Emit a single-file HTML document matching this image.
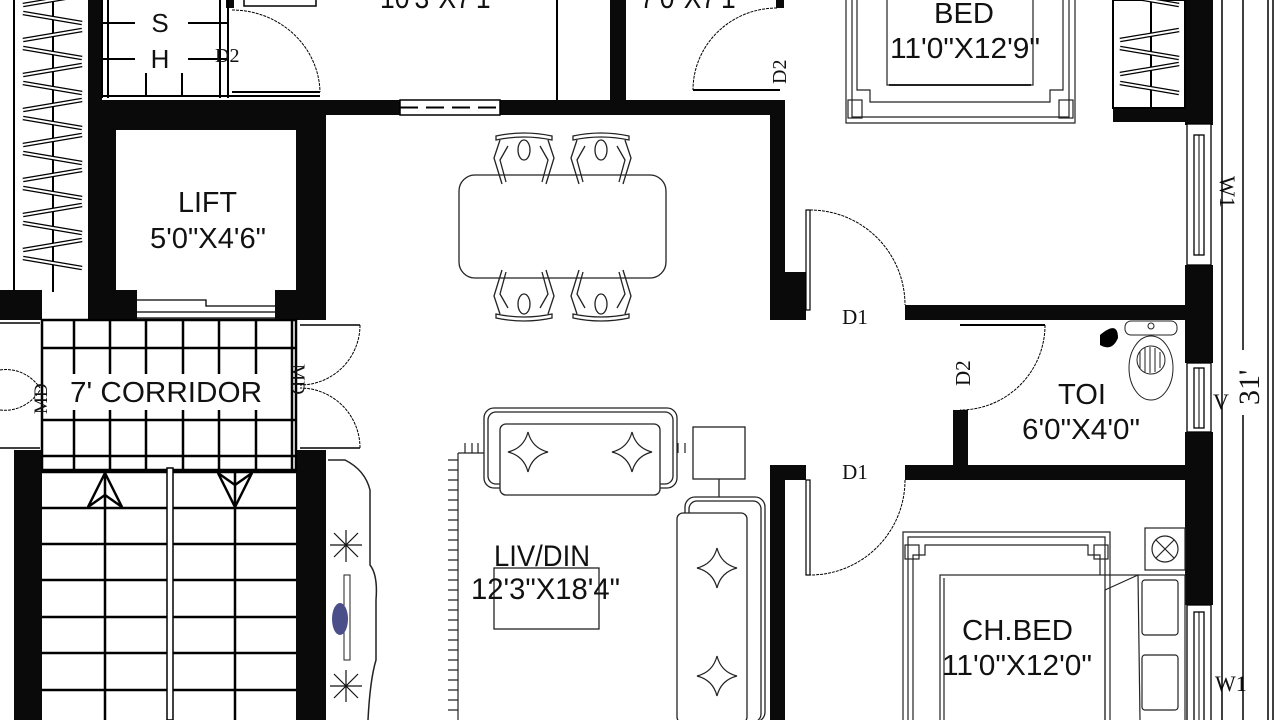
<!DOCTYPE html>
<html><head><meta charset="utf-8"><style>
html,body{margin:0;padding:0;background:#fff;width:1280px;height:720px;overflow:hidden}
svg{display:block}
.s{font-family:"Liberation Sans",sans-serif;fill:#111}
.r{font-family:"Liberation Serif",serif;fill:#111}
</style></head><body>
<svg width="1280" height="720" viewBox="0 0 1280 720" xmlns="http://www.w3.org/2000/svg">
<rect width="1280" height="720" fill="#fff"/>
<defs>
<g id="bar"><line x1="0" y1="0" x2="59" y2="10" stroke="#000" stroke-width="4.5"/><line x1="0" y1="0" x2="59" y2="10" stroke="#fff" stroke-width="2"/></g>
<g id="bar2"><line x1="0" y1="10" x2="59" y2="0" stroke="#000" stroke-width="4.5"/><line x1="0" y1="10" x2="59" y2="0" stroke="#fff" stroke-width="2"/></g>
<g id="chair" fill="none" stroke="#222" stroke-width="1.3">
<path d="M-28,-30 Q0,-36 28,-30 L28,-26 Q0,-32 -28,-26Z"/>
<ellipse cx="0" cy="-16" rx="6" ry="10"/>
<path d="M-24,-26 L-30,-8 L-22,18 M-16,-20 L-24,-6 L-18,16 M24,-26 L30,-8 L22,18 M16,-20 L24,-6 L18,16"/>
</g>
<g id="pillow" fill="#fff" stroke="#222" stroke-width="1.2"><path d="M0,-20 Q4,-4 20,0 Q4,4 0,20 Q-4,4 -20,0 Q-4,-4 0,-20Z"/></g>
</defs>

<!-- left wardrobe -->
<line x1="14" y1="0" x2="14" y2="292" stroke="#000" stroke-width="2"/>
<line x1="53" y1="0" x2="53" y2="292" stroke="#000" stroke-width="2"/>
<g>
<use href="#bar" x="23" y="-22"/><use href="#bar2" x="23" y="-5"/>
<use href="#bar" x="23" y="13"/><use href="#bar2" x="23" y="30"/>
<use href="#bar" x="23" y="48"/><use href="#bar2" x="23" y="65"/>
<use href="#bar" x="23" y="83"/><use href="#bar2" x="23" y="100"/>
<use href="#bar" x="23" y="118"/><use href="#bar2" x="23" y="135"/>
<use href="#bar" x="23" y="153"/><use href="#bar2" x="23" y="170"/>
<use href="#bar" x="23" y="188"/><use href="#bar2" x="23" y="205"/>
<use href="#bar" x="23" y="223"/><use href="#bar2" x="23" y="240"/>
<use href="#bar" x="23" y="258"/>
</g>
<!-- walls -->
<g fill="#0a0a0a">
<rect x="88" y="0" width="14" height="300"/>
<rect x="88" y="100" width="312" height="15"/>
<rect x="500" y="100" width="285" height="15"/>
<rect x="88" y="115" width="28" height="205"/>
<rect x="296" y="115" width="30" height="205"/>
<rect x="116" y="290" width="21" height="30"/>
<rect x="275" y="290" width="21" height="30"/>
<rect x="0" y="290" width="42" height="30"/>
<rect x="610" y="0" width="16" height="100"/>
<rect x="776" y="0" width="8" height="8"/>
<rect x="770" y="100" width="15" height="220"/>
<rect x="770" y="272" width="36" height="48"/>
<rect x="905" y="305" width="290" height="15"/>
<rect x="1185" y="0" width="28" height="125"/>
<rect x="1113" y="108" width="75" height="14"/>
<rect x="1185" y="265" width="28" height="98"/>
<rect x="1185" y="432" width="28" height="173"/>
<rect x="953" y="410" width="15" height="58"/>
<rect x="905" y="465" width="290" height="15"/>
<rect x="770" y="465" width="36" height="15"/>
<rect x="770" y="465" width="15" height="255"/>
<rect x="14" y="450" width="28" height="270"/>
<rect x="296" y="450" width="30" height="270"/>
<rect x="226" y="0" width="8" height="8"/>
</g>
<!-- top window dashed -->
<rect x="400" y="100" width="100" height="15" fill="#fff" stroke="#000" stroke-width="1.5"/>
<line x1="400" y1="107.5" x2="500" y2="107.5" stroke="#000" stroke-width="2" stroke-dasharray="18,8"/>
<!-- top rooms lines -->
<line x1="557" y1="0" x2="557" y2="100" stroke="#000" stroke-width="2"/>
<rect x="244" y="-10" width="72" height="16" fill="none" stroke="#000" stroke-width="1.5"/>
<text x="380" y="8" class="s" font-size="30" textLength="120" lengthAdjust="spacingAndGlyphs">10'3"X7'1"</text>
<text x="640" y="8" class="s" font-size="30" textLength="105" lengthAdjust="spacingAndGlyphs">7'0"X7'1"</text>
<!-- S H -->
<g stroke="#000" stroke-width="2">
<line x1="102" y1="0" x2="102" y2="98"/>
<line x1="108" y1="0" x2="108" y2="98"/>
<line x1="220" y1="0" x2="220" y2="98"/>
<line x1="228" y1="0" x2="228" y2="98"/>
<line x1="102" y1="96" x2="320" y2="96"/>
<line x1="102" y1="23" x2="135" y2="23"/><line x1="188" y1="23" x2="228" y2="23"/>
<line x1="102" y1="59" x2="135" y2="59"/><line x1="188" y1="59" x2="228" y2="59"/>
<line x1="146" y1="73" x2="146" y2="96"/><line x1="182" y1="73" x2="182" y2="96"/>
</g>
<text x="160" y="32" class="s" font-size="26" text-anchor="middle">S</text>
<text x="160" y="68" class="s" font-size="26" text-anchor="middle">H</text>
<text x="215" y="62" class="r" font-size="20">D2</text>
<path d="M232,10 A88,84 0 0 1 320,92" fill="none" stroke="#000" stroke-width="1" stroke-dasharray="3,1"/>
<line x1="232" y1="92" x2="320" y2="92" stroke="#000" stroke-width="2"/>
<!-- D2 top right -->
<path d="M777,8 A84,82 0 0 0 693,90" fill="none" stroke="#000" stroke-width="1" stroke-dasharray="3,1"/>
<line x1="693" y1="90" x2="780" y2="90" stroke="#000" stroke-width="2"/>
<text x="0" y="0" class="r" font-size="20" transform="translate(786,84) rotate(-90)">D2</text>
<!-- lift -->
<rect x="116" y="115" width="180" height="15" fill="#0a0a0a"/>
<text x="178" y="212" class="s" font-size="29" textLength="59" lengthAdjust="spacingAndGlyphs">LIFT</text>
<text x="150" y="248" class="s" font-size="29" textLength="116" lengthAdjust="spacingAndGlyphs">5'0"X4'6"</text>
<path d="M137,300 H206 V306 H275 M137,312 H275 M137,318 H275" fill="none" stroke="#000" stroke-width="1.3"/>
<!-- dining -->
<rect x="459" y="175" width="207" height="103" rx="16" fill="none" stroke="#222" stroke-width="1.3"/>
<use href="#chair" x="524" y="166"/>
<use href="#chair" x="601" y="166"/>
<use href="#chair" x="524" y="288" transform="rotate(180 524 288)"/>
<use href="#chair" x="601" y="288" transform="rotate(180 601 288)"/>
<!-- bed top -->
<g fill="none" stroke="#222" stroke-width="1.2">
<path d="M846,0 V123 H1075 V0"/>
<path d="M852,0 V117 H1069 V0"/>
<path d="M857,0 V90 H870 V102 H1050 V90 H1063 V0"/>
<rect x="887" y="-5" width="146" height="90"/>
<line x1="889" y1="85" x2="1031" y2="85" stroke-width="2"/>
<rect x="848" y="100" width="14" height="18"/><rect x="1059" y="100" width="14" height="18"/>
</g>
<text x="934" y="23" class="s" font-size="29" textLength="60" lengthAdjust="spacingAndGlyphs">BED</text>
<text x="890" y="58" class="s" font-size="29" textLength="150" lengthAdjust="spacingAndGlyphs">11'0"X12'9"</text>
<!-- right wardrobe -->
<rect x="1113" y="0" width="72" height="108" fill="none" stroke="#000" stroke-width="2"/>
<line x1="1151" y1="0" x2="1151" y2="108" stroke="#000" stroke-width="2"/>
<g transform="translate(1120,0)">
<use href="#bar" x="0" y="-5"/><use href="#bar2" x="0" y="30"/><use href="#bar" x="0" y="48"/><use href="#bar2" x="0" y="64"/><use href="#bar" x="0" y="83"/>
</g>
<!-- windows right -->
<g fill="#fff" stroke="#000" stroke-width="1.3">
<rect x="1187" y="124" width="24" height="141"/>
<rect x="1194" y="135" width="10" height="120"/>
<rect x="1187" y="363" width="24" height="69"/>
<rect x="1194" y="368" width="10" height="60"/>
<rect x="1187" y="605" width="24" height="120"/>
<rect x="1194" y="612" width="10" height="110"/>
</g>
<line x1="1199" y1="135" x2="1199" y2="255" stroke="#000"/>
<line x1="1199" y1="368" x2="1199" y2="428" stroke="#000"/>
<line x1="1199" y1="612" x2="1199" y2="720" stroke="#000"/>
<text x="0" y="0" class="r" font-size="22" transform="translate(1220,176) rotate(90)">W1</text>
<text x="1213" y="409" class="r" font-size="22">V</text>
<text x="1215" y="691" class="r" font-size="22">W1</text>
<!-- dimension lines -->
<line x1="1222" y1="0" x2="1222" y2="720" stroke="#000" stroke-width="1.5"/>
<line x1="1243" y1="0" x2="1243" y2="350" stroke="#000" stroke-width="1.5"/>
<line x1="1243" y1="415" x2="1243" y2="720" stroke="#000" stroke-width="1.5"/>
<line x1="1268" y1="0" x2="1268" y2="720" stroke="#000" stroke-width="1.5"/>
<line x1="1273" y1="0" x2="1273" y2="720" stroke="#000" stroke-width="1.5"/>
<text x="0" y="0" class="r" font-size="30" transform="translate(1259,405) rotate(-90)">31'</text>
<!-- D1 upper -->
<rect x="806" y="210" width="4" height="100" fill="none" stroke="#000" stroke-width="1.2"/>
<path d="M810,210 A95,95 0 0 1 905,305" fill="none" stroke="#000" stroke-width="1" stroke-dasharray="3,1"/>
<text x="855" y="324" class="r" font-size="21" text-anchor="middle">D1</text>
<!-- toilet door -->
<line x1="960" y1="325" x2="1045" y2="325" stroke="#000" stroke-width="2"/>
<path d="M1045,325 A85,85 0 0 1 960,410" fill="none" stroke="#000" stroke-width="1" stroke-dasharray="3,1"/>
<text x="0" y="0" class="r" font-size="21" transform="translate(970,386) rotate(-90)">D2</text>
<!-- WC -->
<rect x="1125" y="321" width="52" height="14" rx="6" fill="none" stroke="#222"/>
<circle cx="1151" cy="326" r="3" fill="none" stroke="#222"/>
<ellipse cx="1151" cy="368" rx="22" ry="32" fill="none" stroke="#222"/>
<ellipse cx="1151" cy="360" rx="14" ry="14" fill="none" stroke="#222"/>
<path d="M1140,352 V368 M1145,348 V372 M1150,347 V373 M1155,348 V372 M1160,352 V368" stroke="#222"/>
<path d="M1100,335 Q1118,320 1118,338 Q1112,352 1100,345 Z" fill="#000"/>
<text x="1058" y="404" class="s" font-size="29" textLength="48" lengthAdjust="spacingAndGlyphs">TOI</text>
<text x="1022" y="439" class="s" font-size="29" textLength="118" lengthAdjust="spacingAndGlyphs">6'0"X4'0"</text>
<!-- D1 lower -->
<rect x="806" y="480" width="4" height="95" fill="none" stroke="#000" stroke-width="1.2"/>
<path d="M905,480 A95,95 0 0 1 810,575" fill="none" stroke="#000" stroke-width="1" stroke-dasharray="3,1"/>
<text x="855" y="479" class="r" font-size="21" text-anchor="middle">D1</text>
<!-- CH bed -->
<g fill="none" stroke="#222" stroke-width="1.2">
<path d="M903,720 V532 H1110 V720"/>
<path d="M908,720 V537 H1105 V720"/>
<path d="M913,720 V555 H925 V545 H1088 V555 H1100 V575"/>
<rect x="905" y="545" width="14" height="14"/><rect x="1094" y="545" width="14" height="14"/>
<rect x="940" y="575" width="245" height="150"/>
<line x1="944" y1="578" x2="944" y2="720"/>
<path d="M1105,590 L1138,575 L1140,720 M1105,590 L1105,720"/>
<rect x="1142" y="580" width="36" height="55" rx="3"/>
<rect x="1142" y="655" width="36" height="55" rx="3"/>
<rect x="1145" y="528" width="40" height="42"/>
<circle cx="1165" cy="549" r="13"/>
<path d="M1156,540 L1174,558 M1174,540 L1156,558"/>
</g>
<text x="962" y="640" class="s" font-size="29" textLength="111" lengthAdjust="spacingAndGlyphs">CH.BED</text>
<text x="942" y="675" class="s" font-size="29" textLength="150" lengthAdjust="spacingAndGlyphs">11'0"X12'0"</text>
<!-- corridor grid -->
<g stroke="#000" stroke-width="2.5" fill="none">
<rect x="42" y="320" width="254" height="150"/>
<line x1="74" y1="320" x2="74" y2="470"/><line x1="110" y1="320" x2="110" y2="470"/>
<line x1="146" y1="320" x2="146" y2="470"/><line x1="183" y1="320" x2="183" y2="470"/>
<line x1="219" y1="320" x2="219" y2="470"/><line x1="256" y1="320" x2="256" y2="470"/>
<line x1="292" y1="320" x2="292" y2="470"/>
<line x1="42" y1="348" x2="296" y2="348"/><line x1="42" y1="420" x2="296" y2="420"/>
<line x1="42" y1="456" x2="296" y2="456"/>
</g>
<rect x="66" y="374" width="200" height="36" fill="#fff"/>
<text x="70" y="402" class="s" font-size="29" textLength="192" lengthAdjust="spacingAndGlyphs">7' CORRIDOR</text>
<!-- MD doors -->
<g fill="none" stroke="#000" stroke-width="1" stroke-dasharray="3,1">
<path d="M0,370 A42,45 0 0 1 40,388"/><path d="M0,410 A42,45 0 0 0 40,390"/>
<path d="M360,325 A60,60 0 0 1 300,385"/><path d="M360,448 A60,60 0 0 0 300,388"/>
</g>
<g stroke="#000" stroke-width="1.5"><line x1="0" y1="323" x2="40" y2="323"/><line x1="0" y1="448" x2="40" y2="448"/>
<line x1="300" y1="325" x2="360" y2="325"/><line x1="300" y1="448" x2="360" y2="448"/></g>
<text x="0" y="0" class="r" font-size="19" transform="translate(47,414) rotate(-90)">MD</text>
<text x="0" y="0" class="r" font-size="19" transform="translate(292,364) rotate(90)">MD</text>
<!-- stairs -->
<g stroke="#000" stroke-width="2.5" fill="none">
<line x1="42" y1="472" x2="296" y2="472"/>
<line x1="42" y1="508" x2="296" y2="508"/><line x1="42" y1="544" x2="296" y2="544"/>
<line x1="42" y1="580" x2="296" y2="580"/><line x1="42" y1="617" x2="296" y2="617"/>
<line x1="42" y1="653" x2="296" y2="653"/><line x1="42" y1="690" x2="296" y2="690"/>
<line x1="105" y1="472" x2="105" y2="720"/><line x1="235" y1="472" x2="235" y2="720"/>
<path d="M88,507 L105,473 L122,507 L105,495Z"/>
<path d="M218,473 L235,507 L252,473 L235,485Z"/>
</g>
<rect x="167" y="468" width="6" height="252" fill="#fff" stroke="#000" stroke-width="1.5"/>
<!-- planter -->
<path d="M328,460 H345 Q365,470 370,490 V565 Q378,575 376,600 V660 Q370,680 368,720" fill="none" stroke="#222" stroke-width="1.5"/>
<g stroke="#111" stroke-width="1.2">
<path d="M330,545 L362,545 M346,530 L346,562 M334,533 L358,557 M358,533 L334,557"/>
<path d="M330,686 L362,686 M346,670 L346,702 M334,674 L358,698 M358,674 L334,698"/>
</g>
<rect x="344" y="575" width="6" height="85" fill="#fff" stroke="#222"/>
<ellipse cx="340" cy="619" rx="8" ry="16" fill="#4a4f8a"/>
<!-- rug -->
<g stroke="#222" stroke-width="1.2">
<line x1="458" y1="453" x2="458" y2="720"/><line x1="458" y1="453" x2="484" y2="453"/>
<path d="M448,460H458M448,470H458M448,480H458M448,490H458M448,500H458M448,510H458M448,520H458M448,530H458M448,540H458M448,550H458M448,560H458M448,570H458M448,580H458M448,590H458M448,600H458M448,610H458M448,620H458M448,630H458M448,640H458M448,650H458M448,660H458M448,670H458M448,680H458M448,690H458M448,700H458M448,710H458"/>
<path d="M465,443V453M472,443V453M478,443V453M678,443V453M685,443V453"/>
</g>
<!-- sofas -->
<g fill="none" stroke="#222" stroke-width="1.3">
<rect x="484" y="408" width="193" height="80" rx="10"/>
<rect x="488" y="412" width="185" height="72" rx="8"/>
<rect x="500" y="424" width="160" height="71" rx="6" fill="#fff"/>
<rect x="693" y="427" width="52" height="52"/>
<line x1="719" y1="479" x2="719" y2="497"/>
<rect x="685" y="497" width="80" height="225" rx="10"/>
<rect x="689" y="501" width="72" height="221" rx="8"/>
<rect x="677" y="513" width="70" height="210" rx="6" fill="#fff"/>
<rect x="494" y="568" width="105" height="61"/>
</g>
<use href="#pillow" x="528" y="452"/><use href="#pillow" x="632" y="452"/>
<use href="#pillow" x="717" y="568"/><use href="#pillow" x="717" y="676"/>
<text x="494" y="566" class="s" font-size="30" textLength="96" lengthAdjust="spacingAndGlyphs">LIV/DIN</text>
<text x="471" y="599" class="s" font-size="30" textLength="149" lengthAdjust="spacingAndGlyphs">12'3"X18'4"</text>
</svg>
</body></html>
